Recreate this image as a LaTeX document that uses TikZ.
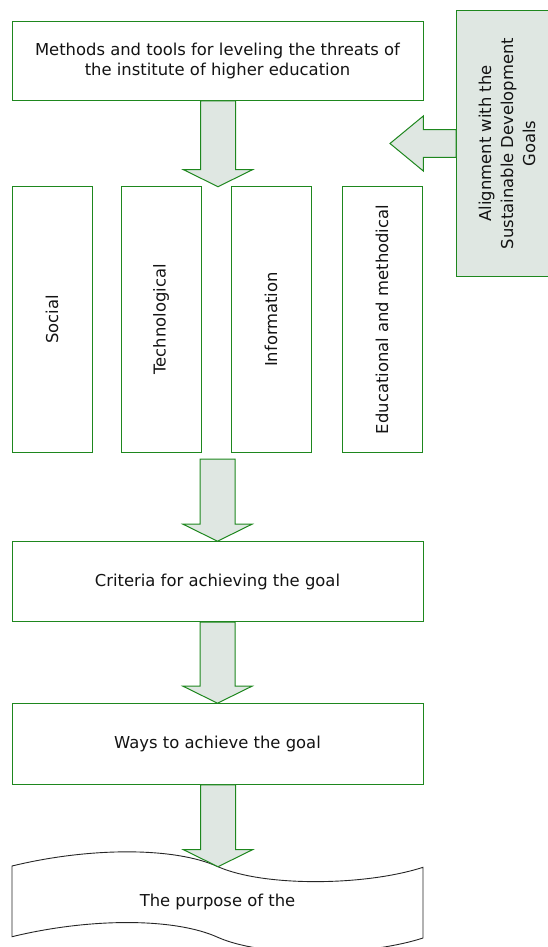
\documentclass[tikz,border=0pt]{standalone}
\usepackage{fontspec}
\setmainfont{DejaVu Sans}
\usetikzlibrary{calc}
\definecolor{gborder}{RGB}{30,135,30}
\definecolor{afill}{RGB}{223,231,226}
\definecolor{txt}{RGB}{20,20,20}
\newcommand\vblockarrow[2]{%
  \draw[blockarrow] let \p1=(#1), \p2=(#2) in
    (\x2-17.5pt,\y1) -- (\x2-17.5pt,\y2+17pt) -- (\x2-34.5pt,\y2+17pt) -- (\x2,\y2)
    -- (\x2+34.5pt,\y2+17pt) -- (\x2+17.5pt,\y2+17pt) -- (\x2+17.5pt,\y1) -- cycle;}
\newcommand\hblockarrow[2]{%
  \draw[blockarrow] let \p1=(#1), \p2=(#2) in
    (\x1,\y2+13.9pt) -- (\x2+33.3pt,\y2+13.9pt) -- (\x2+33.3pt,\y2+27.5pt) -- (\x2,\y2)
    -- (\x2+33.3pt,\y2-27.5pt) -- (\x2+33.3pt,\y2-13.9pt) -- (\x1,\y2-13.9pt) -- cycle;}
\begin{document}
\begin{tikzpicture}[x=1pt,y=-1pt,
  box/.style={draw=gborder,line width=1pt,fill=white,inner sep=0pt,align=center,
    font=\fontsize{16.4}{19.5}\selectfont,text=txt},
  wide/.style={box,minimum width=411pt,minimum height=80pt},
  col/.style={box,minimum width=80pt,minimum height=265.5pt},
  blockarrow/.style={draw=gborder,line width=1pt,fill=afill,line join=miter},
  wave/.style={draw=black!85,line width=0.9pt,fill=white}]
\useasboundingbox (0,0) rectangle (547,947);
% side box
\node[box,fill=afill,minimum width=102pt,minimum height=265pt] (sdg) at (507.7,143.5) {};
\node[rotate=90,align=center,text=txt,font=\fontsize{16.4}{22}\selectfont] (sdgtext) at (507,143.5)
  {Alignment with the\\Sustainable Development\\Goals};
% top box
\node[wide,minimum height=79pt] (top) at (217.5,60.8) {Methods and tools for leveling the threats of\\the institute of higher education};
% columns
\node[col] (social) at (52,319.5) {\rotatebox{90}{Social}};
\node[col] (tech) at (161,319.5) {\rotatebox{90}{Technological}};
\node[col] (info) at (271,319.5) {\rotatebox{90}{Information}};
\node[col] (edu) at (382,319.5) {\rotatebox{90}{Educational and methodical}};
% lower boxes
\node[wide] (crit) at (217.5,581.7) {Criteria for achieving the goal};
\node[wide,minimum height=80.6pt] (ways) at (217.5,744) {Ways to achieve the goal};
% wave shape
\draw[wave] (12,866) .. controls (90,847) and (175,847) .. (218,866.7)
  .. controls (264,887) and (365,886) .. (423,867.3) -- (423,938)
  .. controls (365,956.7) and (264,957.7) .. (218,937.4)
  .. controls (175,917.7) and (90,917.7) .. (12,936.7) -- cycle;
\node[text=txt,font=\fontsize{16.4}{20}\selectfont] (purpose) at (217.5,902) {The purpose of the};
% arrow coordinates
\coordinate (a1tip) at (218,186.7);
\coordinate (a2start) at (218,459);
\coordinate (a4tip) at (218,866.7);
\coordinate (sdgtip) at (390,143.5);
% block arrows
\vblockarrow{top.south}{a1tip}
\vblockarrow{a2start}{crit.north}
\vblockarrow{crit.south}{ways.north}
\vblockarrow{ways.south}{a4tip}
\hblockarrow{sdg.west}{sdgtip}
\end{tikzpicture}
\end{document}
